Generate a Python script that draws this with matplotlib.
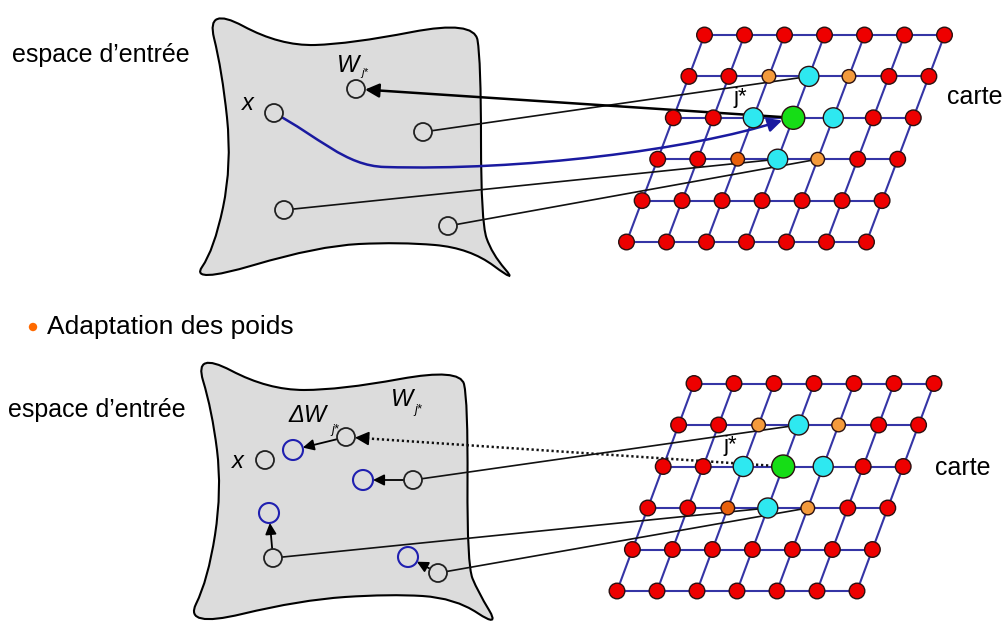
import numpy as np
import matplotlib
matplotlib.use("Agg")
import matplotlib.pyplot as plt
from matplotlib.patches import Circle, PathPatch, FancyArrowPatch
from matplotlib.path import Path

plt.rcParams['font.family'] = ['Liberation Sans', 'DejaVu Sans']

# ---------------- data ----------------
# Kohonen map: 6 rows x 7 columns; node states (R red, O orange, D dark orange, C cyan, G winner)
map_states = [
    "RRRRRRR",
    "RROCORR",
    "RRCGCRR",
    "RRDCORR",
    "RRRRRRR",
    "RRRRRRR",
]
# map geometry (pixel units): origin of first node, column step, row step
top_map_origin = (704.5, 35.0)
bot_map_origin = (694.0, 383.5)
map_col_step = (40.0, 0.0)
top_row_step = (-15.6, 41.4)
bot_row_step = (-15.4, 41.5)

state_color = {"R": "#ee0000", "O": "#f39a3c", "D": "#e8600c", "C": "#2ee8f0", "G": "#16dd16"}
state_radius = {"R": 7.8, "O": 6.8, "D": 6.8, "C": 10.0, "G": 11.5}

# input-space points (top panel): x, W_j*, others
top_x = (274, 113)
top_wj = (356, 89)
top_pts = [(423, 132), (284, 210), (448, 226)]
top_links = [(1, 3), (3, 3), (3, 4)]  # map node (row, col) linked to each top_pts entry

# bottom panel: old weights and adapted (blue) weights
bot_x = (265, 460)
bot_old = [(346, 437), (413, 480), (273, 558), (438, 573)]
bot_new = [(293, 450), (363, 480), (269, 513), (408, 557)]
bot_links = [None, (1, 3), (3, 3), (3, 4)]

winner = (2, 3)

# blob outlines (control polygons, quadratic B-spline)
top_blob = [(206, 6), (280, 46), (350, 44), (474, 20), (481, 60), (481, 222),
            (492, 254), (518, 284), (470, 248), (400, 242), (318, 246),
            (190, 284), (214, 250), (232, 165), (222, 70)]
bot_blob = [(194, 351), (268, 390), (340, 390), (460, 368), (468, 400), (467, 565),
            (478, 592), (500, 628), (455, 598), (390, 594), (300, 600),
            (184, 628), (208, 580), (222, 490), (212, 410)]


# ---------------- helpers ----------------
def node_pos(origin, row_step, r, c):
    return (origin[0] + c * map_col_step[0] + r * row_step[0],
            origin[1] + c * map_col_step[1] + r * row_step[1])


def bspline_path(pts):
    pts = np.asarray(pts, float)
    n = len(pts)
    mids = [(pts[i] + pts[(i + 1) % n]) / 2 for i in range(n)]
    verts = [mids[-1]]
    codes = [Path.MOVETO]
    for i in range(n):
        verts += [pts[i], mids[i]]
        codes += [Path.CURVE3, Path.CURVE3]
    verts.append(mids[-1])
    codes.append(Path.CLOSEPOLY)
    return Path(verts, codes)


def edge_point(p_from, p_to, r):
    p_from = np.asarray(p_from, float)
    p_to = np.asarray(p_to, float)
    d = p_to - p_from
    return tuple(p_to - d / np.linalg.norm(d) * r)


fig = plt.figure(figsize=(10.05, 6.30), dpi=100)
ax = fig.add_axes([0, 0, 1, 1])
ax.set_xlim(0, 1005)
ax.set_ylim(630, 0)
ax.axis("off")

BLOB_FILL = "#dcdcdc"
GRID_COL = "#3535a5"
PT_R = 9.0


def draw_map(origin, row_step):
    nr, nc = len(map_states), len(map_states[0])
    for r in range(nr):
        a = node_pos(origin, row_step, r, 0)
        b = node_pos(origin, row_step, r, nc - 1)
        ax.plot([a[0], b[0]], [a[1], b[1]], color=GRID_COL, lw=1.5, zorder=2)
    for c in range(nc):
        a = node_pos(origin, row_step, 0, c)
        b = node_pos(origin, row_step, nr - 1, c)
        ax.plot([a[0], b[0]], [a[1], b[1]], color=GRID_COL, lw=1.5, zorder=2)


def draw_nodes(origin, row_step):
    for r, row in enumerate(map_states):
        for c, s in enumerate(row):
            p = node_pos(origin, row_step, r, c)
            ax.add_patch(Circle(p, state_radius[s], facecolor=state_color[s],
                                edgecolor="#2a1010", lw=1.0, zorder=5))


# ---------------- top panel ----------------
ax.add_patch(PathPatch(bspline_path(top_blob), facecolor=BLOB_FILL, edgecolor="black", lw=1.5, zorder=1))
draw_map(top_map_origin, top_row_step)

for p, (r, c) in zip(top_pts, top_links):
    q = node_pos(top_map_origin, top_row_step, r, c)
    ax.plot([p[0], q[0]], [p[1], q[1]], color="#111111", lw=1.2, zorder=3)

g_top = node_pos(top_map_origin, top_row_step, *winner)
ax.add_patch(FancyArrowPatch(g_top, edge_point(g_top, top_wj, PT_R),
                             arrowstyle="-|>,head_length=0.7,head_width=0.35",
                             mutation_scale=12, color="black", lw=1.8, zorder=4,
                             shrinkA=0, shrinkB=0))

gx = edge_point((700, 140), g_top, state_radius["G"])
blue_path = Path([top_x, (318, 136), (345, 166), (385, 167),
                  (520, 171), (690, 150), gx],
                 [Path.MOVETO, Path.CURVE4, Path.CURVE4, Path.CURVE4,
                  Path.CURVE4, Path.CURVE4, Path.CURVE4])
ax.add_patch(FancyArrowPatch(path=blue_path, arrowstyle="-|>,head_length=0.7,head_width=0.35",
                             mutation_scale=12, color="#1a1aa0", lw=1.8, zorder=4))

for p in [top_x, top_wj] + top_pts:
    ax.add_patch(Circle(p, PT_R, facecolor=BLOB_FILL, edgecolor="#222222", lw=1.3, zorder=6))
draw_nodes(top_map_origin, top_row_step)

ax.text(248, 103, "x", fontsize=17, style="italic", ha="center", va="center", zorder=7)
ax.text(348, 65, "W", fontsize=17, style="italic", ha="center", va="center", zorder=7)
ax.text(365, 73, "j*", fontsize=8, style="italic", ha="center", va="center", zorder=7)
ax.text(740, 97, "j*", fontsize=16, ha="center", va="center", zorder=7)
ax.text(12, 55, "espace d\u2019entrée", fontsize=18, ha="left", va="center")
ax.text(947, 97, "carte", fontsize=18, ha="left", va="center")

# ---------------- bullet ----------------
ax.add_patch(Circle((33, 327), 4.2, facecolor="#ff6a00", edgecolor="none"))
ax.text(47, 327, "Adaptation des poids", fontsize=19, ha="left", va="center")

# ---------------- bottom panel ----------------
ax.add_patch(PathPatch(bspline_path(bot_blob), facecolor=BLOB_FILL, edgecolor="black", lw=1.5, zorder=1))
draw_map(bot_map_origin, bot_row_step)

for p, link in zip(bot_old, bot_links):
    if link is None:
        continue
    q = node_pos(bot_map_origin, bot_row_step, *link)
    ax.plot([p[0], q[0]], [p[1], q[1]], color="#111111", lw=1.2, zorder=3)

g_bot = node_pos(bot_map_origin, bot_row_step, *winner)
dot_end = edge_point(g_bot, bot_old[0], PT_R + 9)
ax.plot([g_bot[0], dot_end[0]], [g_bot[1], dot_end[1]], color="#111111", lw=1.8,
        linestyle=(0, (0.9, 1.1)), zorder=4)
ax.add_patch(FancyArrowPatch(dot_end, edge_point(g_bot, bot_old[0], PT_R),
                             arrowstyle="-|>,head_length=0.7,head_width=0.35",
                             mutation_scale=12, color="black", lw=1.2, zorder=4,
                             shrinkA=0, shrinkB=0))

for o, n in zip(bot_old, bot_new):
    start = edge_point(n, o, PT_R)
    end = edge_point(o, n, 10)
    ax.add_patch(FancyArrowPatch(start, end, arrowstyle="-|>,head_length=0.6,head_width=0.3",
                                 mutation_scale=11, color="black", lw=1.3, zorder=4,
                                 shrinkA=0, shrinkB=0))

for p in bot_new:
    ax.add_patch(Circle(p, 10, facecolor="none", edgecolor="#2020b0", lw=1.5, zorder=6))
for p in [bot_x] + bot_old:
    ax.add_patch(Circle(p, PT_R, facecolor=BLOB_FILL, edgecolor="#222222", lw=1.3, zorder=6))
draw_nodes(bot_map_origin, bot_row_step)

ax.text(238, 462, "x", fontsize=17, style="italic", ha="center", va="center", zorder=7)
ax.text(308, 416, "\u0394W", fontsize=17, style="italic", ha="center", va="center", zorder=7)
ax.text(335, 430, "j*", fontsize=9, style="italic", ha="center", va="center", zorder=7)
ax.text(402, 399, "W", fontsize=17, style="italic", ha="center", va="center", zorder=7)
ax.text(418, 410, "j*", fontsize=9, style="italic", ha="center", va="center", zorder=7)
ax.text(730, 446, "j*", fontsize=16, ha="center", va="center", zorder=7)
ax.text(8, 410, "espace d\u2019entrée", fontsize=18, ha="left", va="center")
ax.text(935, 468, "carte", fontsize=18, ha="left", va="center")

fig.savefig("out.png", dpi=100, facecolor="white")
